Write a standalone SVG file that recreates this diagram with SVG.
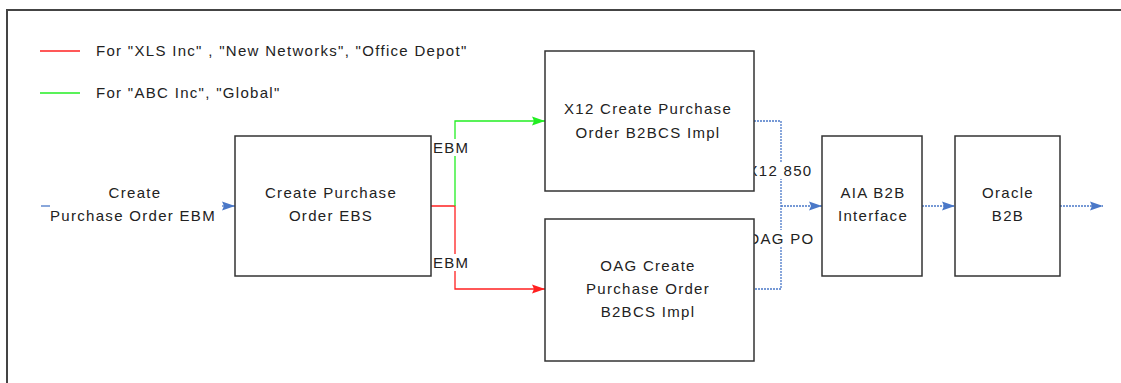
<svg xmlns="http://www.w3.org/2000/svg" width="1121" height="383" viewBox="0 0 1121 383">
<style>
text{font-family:"Liberation Sans",Arial,sans-serif;font-size:15px;fill:#222;text-anchor:middle;letter-spacing:1.3px}
.box{fill:#fff;stroke:#333;stroke-width:1.5}
.red{fill:none;stroke:#ff2020;stroke-width:1.3}
.green{fill:none;stroke:#22ee22;stroke-width:1.3}
.blue{fill:none;stroke:#4a78c8;stroke-width:1.3;stroke-dasharray:2 1}
.lbl{text-anchor:start}
</style>
<defs>
<marker id="ar" markerWidth="14" markerHeight="12" refX="13" refY="6" orient="auto" markerUnits="userSpaceOnUse"><path d="M0,1.5 L13,6 L0,10.5 L2,6 Z" fill="#ff2020"/></marker>
<marker id="ag" markerWidth="14" markerHeight="12" refX="13" refY="6" orient="auto" markerUnits="userSpaceOnUse"><path d="M0,1.5 L13,6 L0,10.5 L2,6 Z" fill="#22ee22"/></marker>
<marker id="ab" markerWidth="14" markerHeight="12" refX="13" refY="6" orient="auto" markerUnits="userSpaceOnUse"><path d="M0,1.5 L13,6 L0,10.5 L2,6 Z" fill="#4a78c8"/></marker>
</defs>
<rect width="1121" height="383" fill="#fff"/>
<path d="M7,400 V10 H1130" fill="none" stroke="#444" stroke-width="2"/>
<g id="legend">
<line x1="40" y1="51" x2="80" y2="51" stroke="#ff2020" stroke-width="1.3"/>
<text class="lbl" x="96" y="56">For "XLS Inc" , "New Networks", "Office Depot"</text>
<line x1="40" y1="93" x2="80" y2="93" stroke="#22ee22" stroke-width="1.3"/>
<text class="lbl" x="96" y="98">For "ABC Inc", "Global"</text>
</g>
<g id="connectors">
<line x1="41" y1="206" x2="50" y2="206" stroke="#4a78c8" stroke-width="1.3"/>
<line x1="222" y1="206" x2="235" y2="206" stroke="#4a78c8" stroke-width="1.3" marker-end="url(#ab)"/>
<polyline class="red" points="431,206 455,206 455,289 545,289" marker-end="url(#ar)"/>
<polyline class="green" points="455,206 455,121 545,121" marker-end="url(#ag)"/>
<polyline class="blue" points="754,121 781,121 781,289 754,289"/>
<line class="blue" x1="781" y1="206" x2="822" y2="206" marker-end="url(#ab)"/>
<line class="blue" x1="922" y1="206" x2="955" y2="206" marker-end="url(#ab)"/>
<line class="blue" x1="1060" y1="206" x2="1103" y2="206" marker-end="url(#ab)"/>
<rect x="433" y="139" width="40" height="17" fill="#fff"/>
<text class="lbl" x="433" y="153">EBM</text>
<rect x="433" y="254" width="40" height="17" fill="#fff"/>
<text class="lbl" x="433" y="268">EBM</text>
<rect x="743" y="162" width="72" height="17" fill="#fff"/>
<text x="780" y="176">X12 850</text>
<rect x="741" y="230" width="78" height="17" fill="#fff"/>
<text x="781" y="244">OAG PO</text>
</g>
<g id="input">
<text x="135" y="198">Create</text>
<text x="133" y="221">Purchase Order EBM</text>
</g>
<g id="ebs">
<rect class="box" x="235" y="136" width="196" height="140"/>
<text x="331" y="198">Create Purchase</text>
<text x="331" y="221">Order EBS</text>
</g>
<g id="x12">
<rect class="box" x="545" y="51" width="209" height="140"/>
<text x="648" y="114">X12 Create Purchase</text>
<text x="648" y="138">Order B2BCS Impl</text>
</g>
<g id="oag">
<rect class="box" x="545" y="219" width="209" height="142"/>
<text x="648" y="271">OAG Create</text>
<text x="648" y="294">Purchase Order</text>
<text x="648" y="317">B2BCS Impl</text>
</g>
<g id="aia">
<rect class="box" x="822" y="136" width="100" height="140"/>
<text x="873" y="198">AIA B2B</text>
<text x="873" y="221">Interface</text>
</g>
<g id="oracle">
<rect class="box" x="955" y="136" width="105" height="140"/>
<text x="1008" y="198">Oracle</text>
<text x="1008" y="221">B2B</text>
</g>
</svg>
